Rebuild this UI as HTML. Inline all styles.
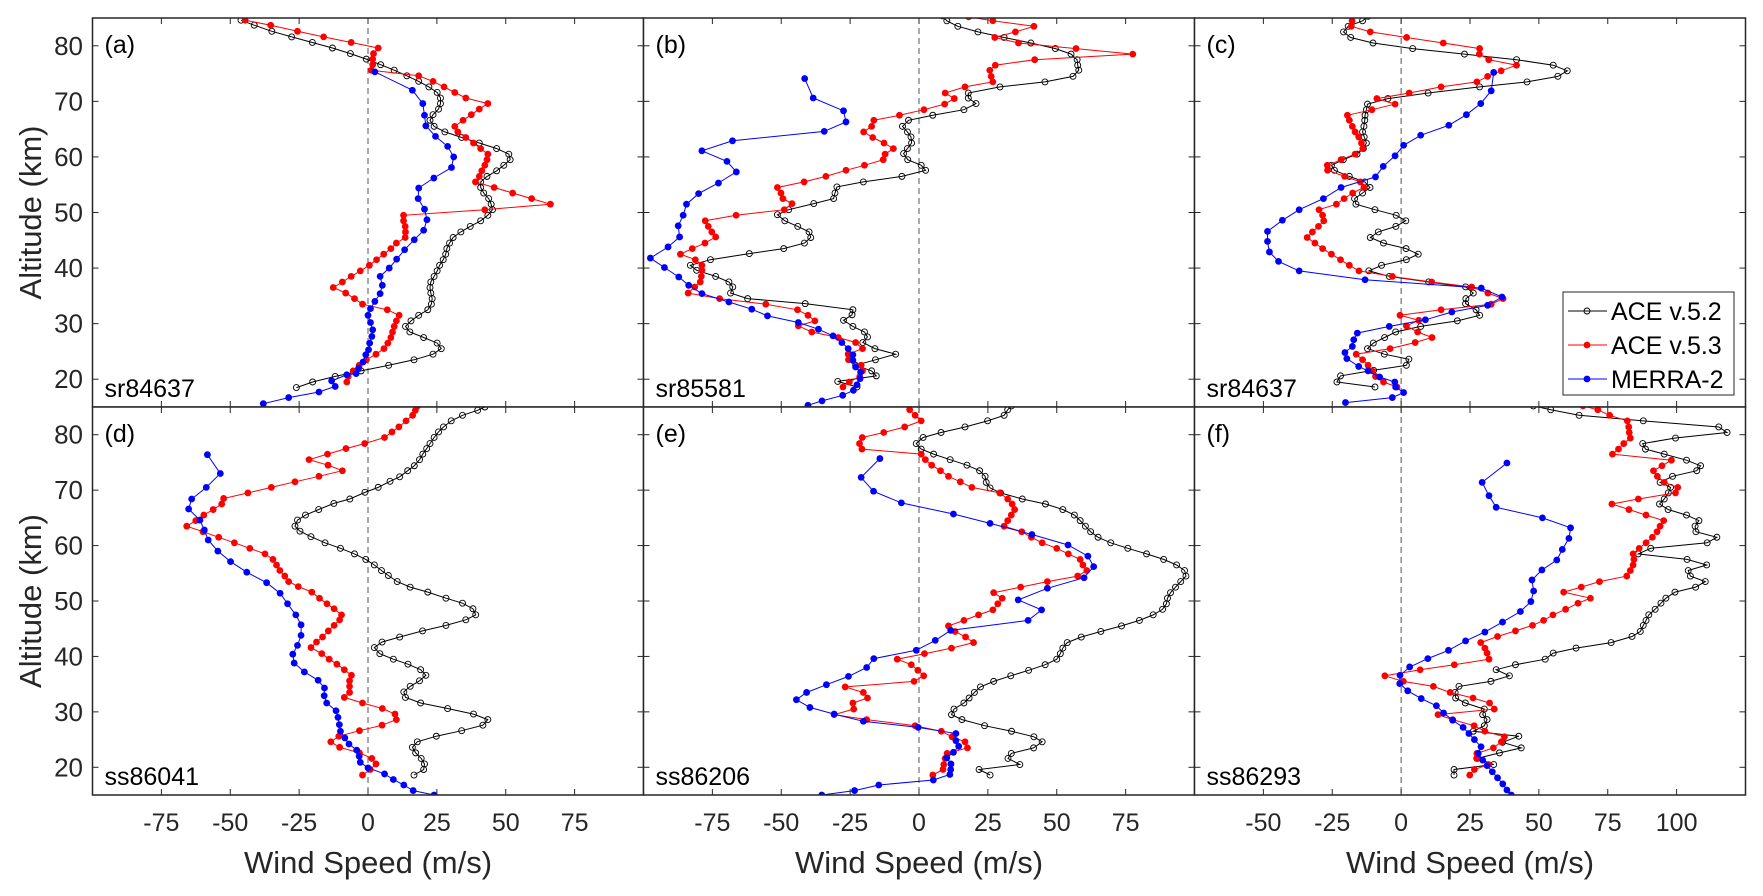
<!DOCTYPE html>
<html><head><meta charset="utf-8"><style>
html,body{margin:0;padding:0;background:#fff;}
svg{display:block;font-family:"Liberation Sans",Arial,sans-serif;}
</style></head><body>
<svg id="fig" width="1763" height="896" viewBox="0 0 1763 896" xmlns="http://www.w3.org/2000/svg"></svg>
<script>
// ---------- data: [altitude km, wind speed m/s] ----------
const panelLetters=["(a)","(b)","(c)","(d)","(e)","(f)"];
const occultations=["sr84637","sr85581","sr84637","ss86041","ss86206","ss86293"];
const xTicksAB=[-75,-50,-25,0,25,50,75];
const xTicksC=[-50,-25,0,25,50,75,100];
const yTicks=[20,30,40,50,60,70,80];
const seriesNames=["ACE v.5.2","ACE v.5.3","MERRA-2"];

const a52=[[84.6,-46.1],[83.7,-41.3],[82.6,-34.9],[81.6,-27.7],[80.6,-20.2],[79.6,-12.9],[78.6,-6.4],[77.6,-0.6],[76.6,4.6],[75.6,9.5],[74.6,14.1],[73.6,18.4],[72.6,22.1],[71.6,25.1],[70.6,26.3],[69.6,26.3],[68.6,25.6],[67.6,23.6],[66.6,22.5],[65.5,24.0],[64.5,27.9],[63.5,34.0],[62.5,40.4],[61.5,46.7],[60.5,51.1],[59.5,51.6],[58.5,49.3],[57.5,46.7],[56.5,43.2],[55.5,40.9],[54.5,40.9],[53.5,42.0],[52.5,43.8],[51.5,44.7],[50.5,45.2],[49.5,43.5],[48.5,40.9],[47.5,37.1],[46.5,33.7],[45.5,30.9],[44.5,29.6],[43.5,28.6],[42.5,28.2],[41.5,27.3],[40.5,26.0],[39.5,25.1],[38.5,24.0],[37.5,22.8],[36.5,22.5],[35.5,22.8],[34.5,23.3],[33.5,23.0],[32.5,21.7],[31.5,18.4],[30.5,15.6],[29.5,13.6],[28.5,15.2],[27.5,20.2],[26.5,25.1],[25.5,26.6],[24.5,23.6],[23.5,16.7],[22.5,7.5],[21.5,-2.5],[20.5,-11.9],[19.5,-20.1],[18.5,-26.0]];
const a53=[[84.6,-44.6],[83.7,-35.3],[82.6,-25.6],[81.6,-16.1],[80.6,-6.1],[79.6,3.7],[78.6,2.0],[77.6,1.7],[76.6,1.7],[75.6,1.2],[74.6,18.4],[73.6,23.6],[72.6,27.6],[71.6,31.5],[70.6,35.5],[69.6,43.5],[68.6,40.4],[67.6,37.5],[66.6,34.5],[65.5,31.5],[64.5,32.6],[63.5,35.5],[62.5,38.3],[61.5,40.9],[60.5,43.5],[59.5,43.2],[58.5,42.4],[57.5,41.3],[56.5,40.4],[55.5,39.0],[54.5,45.8],[53.5,52.5],[52.5,59.4],[51.5,66.2],[50.5,42.4],[49.5,12.9],[48.5,12.9],[47.5,13.5],[46.5,13.6],[45.5,13.5],[44.5,10.3],[43.5,8.3],[42.5,5.7],[41.5,3.1],[40.5,0.5],[39.5,-2.8],[38.5,-6.1],[37.5,-9.3],[36.5,-12.6],[35.5,-8.1],[34.5,-4.9],[33.5,-2.0],[32.5,7.0],[31.5,11.3],[30.5,10.3],[29.5,9.5],[28.5,8.9],[27.5,8.3],[26.5,7.2],[25.5,5.8],[24.5,2.9],[23.5,-0.6],[22.5,-3.2],[21.5,-5.4],[20.5,-7.2],[19.5,-7.7]];
const aMerra=[[75.3,2.5],[72.0,16.1],[69.6,19.9],[67.5,20.5],[65.6,21.0],[63.7,24.5],[61.9,28.9],[60.0,31.1],[58.1,30.3],[56.2,23.9],[54.4,18.4],[52.5,18.2],[50.6,20.5],[48.7,21.4],[46.8,20.2],[45.1,16.8],[43.3,13.3],[41.6,10.4],[40.0,7.7],[38.5,4.4],[36.9,5.2],[35.4,4.4],[34.0,2.5],[32.7,0.9],[31.5,0.0],[30.2,0.9],[28.9,1.7],[27.7,1.4],[26.5,0.6],[25.3,0.2],[24.4,-0.8],[23.1,-1.8],[22.0,-3.4],[21.0,-4.3],[20.8,-7.7],[19.7,-13.2],[18.7,-11.9],[17.7,-17.8],[16.7,-28.8],[15.6,-38.0]];

const b52=[[85.4,8.5],[84.5,10.1],[83.5,14.1],[82.5,21.4],[81.5,30.9],[80.5,40.6],[79.5,49.5],[78.5,55.2],[77.5,57.4],[76.5,57.6],[75.6,58.0],[74.5,55.9],[73.5,45.7],[72.6,29.4],[71.5,17.9],[70.6,17.9],[69.6,20.7],[68.5,16.3],[67.5,5.0],[66.6,-3.8],[65.5,-6.0],[64.5,-4.2],[63.6,-2.9],[62.5,-2.7],[61.5,-4.2],[60.6,-5.6],[59.5,-4.1],[58.5,0.8],[57.6,2.4],[56.5,-6.2],[55.5,-20.2],[54.6,-29.8],[53.5,-30.5],[52.5,-31.0],[51.6,-38.2],[50.5,-47.3],[49.6,-51.4],[48.5,-48.7],[47.5,-44.0],[46.5,-39.9],[45.5,-39.3],[44.5,-41.6],[43.5,-49.1],[42.6,-61.6],[41.5,-75.7],[40.5,-83.0],[39.6,-80.7],[38.5,-73.8],[37.5,-69.0],[36.6,-67.6],[35.5,-68.4],[34.5,-62.2],[33.6,-41.3],[32.5,-24.0],[31.6,-24.3],[30.6,-27.4],[29.5,-24.0],[28.5,-19.8],[27.6,-18.7],[26.6,-20.4],[25.5,-16.0],[24.5,-8.5],[23.5,-15.8],[22.5,-23.0],[21.5,-17.2],[20.6,-15.5],[19.6,-29.5],[18.6,-22.5]];
const b53=[[85.2,18.0],[84.5,26.8],[83.5,41.7],[82.5,35.0],[81.5,27.5],[80.5,36.1],[79.5,57.0],[78.5,77.6],[77.5,42.0],[76.5,27.7],[75.6,25.7],[74.5,26.2],[73.5,26.8],[72.6,16.7],[71.5,9.5],[70.5,12.8],[69.5,9.3],[68.5,1.8],[67.5,-7.1],[66.6,-16.4],[65.5,-17.2],[64.5,-20.1],[63.5,-16.8],[62.5,-12.7],[61.5,-9.3],[60.5,-12.3],[59.5,-13.0],[58.5,-19.8],[57.6,-26.5],[56.5,-33.8],[55.5,-41.7],[54.5,-51.4],[53.5,-50.1],[52.5,-49.4],[51.6,-46.1],[50.5,-48.9],[49.5,-66.4],[48.5,-77.6],[47.5,-76.5],[46.5,-75.2],[45.6,-73.8],[44.5,-77.7],[43.5,-82.3],[42.5,-86.6],[41.5,-81.2],[40.5,-78.8],[39.6,-78.8],[38.5,-79.0],[37.5,-79.4],[36.6,-81.4],[35.5,-83.8],[34.5,-72.4],[33.5,-55.6],[32.5,-44.1],[31.5,-40.3],[30.5,-37.8],[29.6,-43.8],[28.5,-38.9],[27.5,-29.3],[26.6,-23.0],[25.5,-20.5],[24.5,-25.7],[23.5,-25.6],[22.5,-21.0],[21.5,-20.5],[20.5,-21.5],[19.5,-25.3],[18.6,-27.6]];
const bMerra=[[74.1,-41.5],[70.6,-38.4],[68.3,-27.4],[66.3,-26.5],[64.6,-34.4],[62.9,-67.7],[61.1,-78.8],[59.2,-69.7],[57.3,-66.3],[55.3,-72.8],[53.4,-80.0],[51.5,-84.4],[49.5,-85.6],[47.6,-87.4],[45.6,-86.9],[43.8,-91.1],[41.8,-97.5],[40.1,-92.4],[38.4,-87.2],[36.9,-83.6],[35.4,-78.8],[33.9,-69.0],[32.6,-60.7],[31.4,-55.0],[30.2,-43.8],[29.0,-36.5],[27.8,-31.2],[26.6,-28.0],[25.5,-25.7],[24.4,-24.0],[23.4,-24.0],[22.2,-23.0],[21.3,-21.2],[20.1,-21.4],[19.0,-22.5],[18.0,-23.8],[17.1,-27.7],[16.1,-35.2],[15.3,-40.3]];

const c52=[[85.3,-12.0],[84.5,-14.0],[83.5,-19.2],[82.5,-20.9],[81.5,-18.3],[80.5,-10.2],[79.5,4.2],[78.5,23.0],[77.5,41.9],[76.5,55.2],[75.5,60.3],[74.5,56.9],[73.5,45.7],[72.6,28.5],[71.5,9.8],[70.5,-4.8],[69.5,-12.2],[68.5,-12.6],[67.5,-13.1],[66.6,-13.2],[65.5,-13.5],[64.5,-14.0],[63.6,-13.4],[62.5,-12.6],[61.5,-13.7],[60.5,-16.0],[59.5,-21.0],[58.5,-25.3],[57.6,-24.2],[56.5,-18.8],[55.5,-13.2],[54.5,-11.3],[53.5,-14.0],[52.5,-16.9],[51.5,-16.4],[50.5,-9.5],[49.5,-1.8],[48.5,1.7],[47.5,-1.9],[46.5,-8.3],[45.5,-11.2],[44.5,-6.4],[43.5,1.8],[42.5,6.2],[41.5,1.9],[40.5,-7.1],[39.5,-11.7],[38.5,-4.3],[37.5,10.0],[36.6,23.4],[35.5,26.2],[34.5,23.5],[33.6,23.4],[32.5,27.2],[31.5,28.5],[30.5,20.4],[29.5,7.1],[28.5,-2.0],[27.5,-6.0],[26.5,-10.1],[25.5,-12.2],[24.5,-6.1],[23.6,2.8],[22.5,1.9],[21.6,-10.0],[20.6,-22.0],[19.5,-23.3],[18.6,-9.5]];
const c53=[[84.5,-17.8],[83.5,-18.1],[82.5,-11.2],[81.5,2.0],[80.5,15.3],[79.5,28.5],[78.5,28.4],[77.5,31.8],[76.5,41.9],[75.5,36.3],[74.5,31.4],[73.5,27.5],[72.6,14.5],[71.5,2.9],[70.5,-8.8],[69.5,-2.2],[68.5,-10.6],[67.5,-19.5],[66.6,-18.8],[65.5,-17.7],[64.5,-16.7],[63.6,-15.4],[62.5,-14.4],[61.5,-13.9],[60.5,-16.7],[59.5,-21.8],[58.5,-26.8],[57.6,-26.7],[56.5,-20.5],[55.5,-14.8],[54.5,-13.5],[53.5,-17.6],[52.5,-20.7],[51.5,-23.5],[50.5,-29.8],[49.5,-28.5],[48.5,-28.1],[47.5,-30.0],[46.5,-32.2],[45.5,-34.1],[44.5,-31.3],[43.5,-28.5],[42.5,-25.3],[41.5,-22.0],[40.5,-18.8],[39.5,-15.3],[38.5,-3.2],[37.5,11.1],[36.6,25.6],[35.5,31.5],[34.5,37.0],[33.5,32.7],[32.5,14.5],[31.5,-0.4],[30.6,6.4],[29.6,1.9],[28.5,6.0],[27.5,11.2],[26.6,5.1],[25.5,-4.0],[24.5,-16.3],[23.5,-14.0],[22.5,-12.0],[21.5,-10.5],[20.5,-9.3],[19.5,-6.4],[18.6,-1.5]];
const cMerra=[[75.2,33.6],[71.9,32.7],[69.6,28.9],[67.6,23.7],[65.7,17.3],[63.9,7.1],[62.1,0.9],[60.2,-2.2],[58.3,-6.5],[56.4,-9.3],[54.5,-21.8],[52.5,-28.2],[50.5,-37.0],[48.6,-43.1],[46.6,-48.5],[44.8,-48.5],[42.9,-47.8],[41.2,-44.5],[39.5,-37.0],[37.9,-13.1],[36.4,29.1],[34.8,36.6],[33.3,31.4],[32.1,18.4],[30.7,8.8],[29.5,-4.3],[28.3,-15.9],[27.1,-17.2],[25.9,-17.7],[24.8,-20.4],[23.7,-19.7],[22.3,-15.4],[21.5,-12.0],[20.4,-7.8],[19.5,-2.3],[18.6,-2.0],[17.6,0.9],[16.7,-3.2],[15.8,-20.2]];

const d52=[[85.0,42.4],[84.4,39.8],[83.5,34.3],[82.5,30.2],[81.4,27.4],[80.5,25.6],[79.5,24.0],[78.4,22.5],[77.5,21.3],[76.5,19.9],[75.5,18.7],[74.4,16.8],[73.5,14.4],[72.4,11.5],[71.6,8.0],[70.5,3.7],[69.6,-1.1],[68.4,-6.6],[67.6,-12.4],[66.5,-17.9],[65.5,-22.7],[64.6,-25.6],[63.5,-26.5],[62.6,-24.7],[61.6,-20.7],[60.5,-15.6],[59.5,-10.0],[58.5,-4.9],[57.5,-0.8],[56.5,2.3],[55.5,4.9],[54.6,7.4],[53.5,10.6],[52.5,15.3],[51.6,21.7],[50.5,28.3],[49.6,34.3],[48.6,38.1],[47.5,39.1],[46.6,35.5],[45.6,28.3],[44.6,19.8],[43.5,11.5],[42.6,5.1],[41.6,2.3],[40.5,4.3],[39.5,9.2],[38.6,14.5],[37.6,19.1],[36.6,21.0],[35.6,18.7],[34.6,15.3],[33.6,13.0],[32.6,13.6],[31.6,19.1],[30.6,28.9],[29.6,38.3],[28.6,43.5],[27.6,41.7],[26.6,34.0],[25.6,24.8],[24.6,17.9],[23.6,16.1],[22.6,17.3],[21.6,19.3],[20.6,20.5],[19.6,20.2],[18.6,16.7]];
const d53=[[85.2,18.0],[84.4,17.2],[83.5,16.2],[82.5,13.8],[81.4,11.2],[80.5,8.7],[79.5,6.0],[78.4,-1.2],[77.5,-8.0],[76.5,-14.7],[75.5,-21.4],[74.5,-14.5],[73.5,-9.3],[72.5,-17.8],[71.5,-26.5],[70.5,-35.1],[69.5,-43.6],[68.5,-52.4],[67.5,-53.1],[66.5,-56.2],[65.5,-59.6],[64.5,-62.5],[63.5,-65.8],[62.5,-59.9],[61.5,-54.2],[60.5,-48.5],[59.5,-42.9],[58.5,-37.4],[57.5,-34.5],[56.5,-33.2],[55.5,-32.0],[54.5,-30.2],[53.5,-28.8],[52.6,-25.3],[51.6,-20.4],[50.5,-17.6],[49.5,-14.9],[48.6,-12.3],[47.5,-9.6],[46.6,-10.3],[45.6,-12.3],[44.6,-14.4],[43.5,-16.5],[42.6,-18.7],[41.6,-20.7],[40.5,-16.8],[39.5,-14.1],[38.6,-11.3],[37.6,-8.6],[36.6,-6.0],[35.6,-6.7],[34.6,-6.7],[33.5,-6.7],[32.6,-8.6],[31.6,-2.0],[30.6,5.2],[29.6,9.8],[28.6,10.3],[27.6,5.1],[26.6,-3.1],[25.6,-10.6],[24.6,-13.5],[23.6,-10.3],[22.6,-3.1],[21.6,1.4],[20.6,2.9],[19.6,0.8],[18.6,-2.0]];
const dMerra=[[76.4,-58.3],[73.0,-53.6],[70.5,-58.7],[68.4,-64.0],[66.6,-65.1],[64.6,-61.0],[62.8,-59.4],[61.0,-58.0],[59.0,-54.5],[57.1,-49.9],[55.2,-44.0],[53.3,-36.8],[51.4,-31.9],[49.5,-29.2],[47.5,-26.2],[45.7,-24.3],[43.8,-24.3],[42.0,-25.6],[40.4,-27.3],[38.8,-26.8],[37.2,-23.1],[35.7,-18.1],[34.3,-15.8],[32.9,-15.9],[31.6,-15.0],[30.2,-11.6],[29.0,-10.9],[27.7,-10.4],[26.5,-10.0],[25.3,-8.4],[24.2,-6.9],[23.1,-4.1],[22.0,-3.2],[20.9,-2.8],[19.9,0.0],[18.8,6.0],[17.8,9.2],[16.8,13.0],[15.8,16.4],[15.0,24.0]];

const e52=[[85.2,33.5],[84.5,32.2],[83.5,30.9],[82.5,24.9],[81.4,16.7],[80.4,8.0],[79.5,1.5],[78.4,-1.0],[77.4,0.8],[76.5,5.3],[75.5,11.3],[74.5,17.4],[73.5,22.0],[72.5,24.0],[71.4,24.4],[70.4,25.8],[69.5,29.6],[68.4,37.5],[67.5,45.9],[66.5,52.2],[65.5,56.4],[64.5,58.5],[63.5,60.4],[62.5,62.3],[61.5,65.0],[60.5,69.6],[59.5,75.8],[58.5,82.6],[57.5,88.8],[56.5,93.5],[55.5,96.4],[54.5,96.9],[53.5,95.0],[52.5,93.1],[51.5,91.3],[50.5,90.2],[49.5,89.8],[48.5,88.4],[47.5,85.0],[46.5,80.0],[45.5,73.5],[44.5,66.0],[43.5,58.9],[42.5,53.8],[41.5,52.2],[40.5,51.3],[39.5,50.0],[38.5,45.8],[37.5,39.8],[36.5,33.3],[35.5,27.1],[34.5,22.3],[33.5,20.1],[32.5,18.2],[31.6,16.3],[30.5,12.7],[29.5,11.8],[28.6,15.6],[27.5,23.8],[26.5,33.6],[25.5,41.7],[24.6,44.7],[23.5,41.6],[22.5,33.5],[21.6,32.3],[20.5,36.6],[19.6,21.8],[18.6,25.8]];
const e53=[[84.5,-3.4],[83.5,-1.4],[82.5,0.8],[81.4,-5.2],[80.4,-12.8],[79.5,-20.6],[78.4,-21.6],[77.4,-20.7],[76.5,0.8],[75.5,2.3],[74.5,4.6],[73.5,7.8],[72.5,10.7],[71.5,15.0],[70.5,19.2],[69.5,29.3],[68.4,32.2],[67.5,33.8],[66.5,34.7],[65.5,33.5],[64.5,32.2],[63.5,30.9],[62.5,37.3],[61.5,40.8],[60.5,44.7],[59.5,50.0],[58.5,54.2],[57.5,58.5],[56.5,59.5],[55.5,60.9],[54.5,57.6],[53.5,46.6],[52.5,36.9],[51.5,27.1],[50.5,30.2],[49.5,28.6],[48.4,26.8],[47.5,21.6],[46.5,16.3],[45.5,10.7],[44.5,13.1],[43.5,16.9],[42.5,19.8],[41.5,11.8],[40.5,2.0],[39.5,-7.9],[38.5,-2.8],[37.5,-0.4],[36.5,1.7],[35.5,-1.8],[34.5,-26.8],[33.5,-20.2],[32.5,-18.7],[31.6,-24.0],[30.5,-23.7],[29.5,-30.8],[28.6,-19.0],[27.5,-1.4],[26.5,8.1],[25.5,12.0],[24.6,16.7],[23.5,17.6],[22.5,10.2],[21.6,9.5],[20.5,9.0],[19.6,8.7],[18.6,5.0]];
const eMerra=[[75.7,-14.2],[72.3,-21.0],[69.8,-16.5],[67.7,-6.4],[65.7,12.5],[64.0,25.8],[62.0,41.0],[60.1,54.1],[58.1,61.3],[56.2,63.4],[54.2,59.9],[52.3,46.6],[50.2,36.0],[48.4,44.5],[46.5,39.6],[44.7,11.5],[42.9,5.9],[41.1,-1.0],[39.6,-16.4],[38.0,-19.0],[36.4,-25.6],[34.9,-33.6],[33.5,-40.8],[32.2,-44.5],[30.8,-39.6],[29.6,-30.8],[28.3,-20.2],[27.2,-0.3],[26.1,13.4],[24.8,13.4],[23.8,14.4],[22.7,12.5],[21.7,10.1],[20.6,11.6],[19.6,11.5],[18.7,11.2],[17.7,5.2],[16.8,-14.6],[15.8,-23.4],[15.0,-35.3]];

const f52=[[85.2,48.0],[84.5,54.3],[83.5,64.6],[82.5,87.9],[81.4,115.3],[80.4,118.3],[79.4,99.6],[78.4,87.7],[77.4,88.7],[76.5,95.5],[75.4,103.6],[74.4,108.7],[73.5,107.3],[72.5,98.5],[71.4,94.0],[70.5,97.8],[69.5,97.0],[68.4,95.5],[67.5,93.8],[66.5,96.9],[65.5,103.6],[64.5,108.1],[63.5,106.7],[62.5,107.0],[61.5,114.6],[60.5,111.1],[59.5,90.6],[58.5,86.1],[57.5,103.8],[56.5,110.9],[55.5,104.2],[54.5,105.0],[53.5,110.4],[52.5,106.9],[51.6,99.4],[50.5,96.1],[49.6,94.3],[48.5,92.2],[47.5,89.9],[46.5,88.9],[45.6,87.9],[44.5,86.8],[43.6,83.8],[42.5,76.2],[41.5,63.5],[40.6,55.2],[39.5,52.3],[38.5,41.5],[37.6,34.5],[36.5,39.3],[35.5,32.6],[34.6,21.0],[33.5,19.6],[32.5,19.8],[31.6,23.3],[30.5,30.2],[29.5,29.6],[28.6,31.2],[27.5,30.2],[26.5,26.2],[25.6,42.7],[24.5,36.8],[23.5,43.6],[22.6,35.7],[21.6,27.6],[20.5,33.6],[19.6,19.2],[18.6,19.2]];
const f53=[[85.2,66.0],[84.5,71.4],[83.5,75.7],[82.5,82.1],[81.4,82.6],[80.4,82.8],[79.4,83.2],[78.4,80.8],[77.4,78.9],[76.5,76.7],[75.4,98.1],[74.4,94.7],[73.5,91.6],[72.5,93.0],[71.4,95.5],[70.5,100.4],[69.5,99.6],[68.4,86.1],[67.5,76.5],[66.5,82.7],[65.5,88.9],[64.5,95.3],[63.5,94.0],[62.5,92.9],[61.5,91.2],[60.5,88.9],[59.5,86.4],[58.5,84.2],[57.5,84.5],[56.5,84.2],[55.5,83.2],[54.5,81.9],[53.5,72.0],[52.5,65.4],[51.6,59.0],[50.5,68.7],[49.6,64.2],[48.5,59.7],[47.5,55.1],[46.5,51.7],[45.6,47.7],[44.6,41.5],[43.6,35.0],[42.5,28.9],[41.5,30.4],[40.6,31.2],[39.5,31.9],[38.5,19.3],[37.6,6.9],[36.5,-5.9],[35.5,0.8],[34.6,11.7],[33.5,17.8],[32.5,26.1],[31.6,32.1],[30.5,33.8],[29.5,13.4],[28.6,18.7],[27.5,26.5],[26.5,30.4],[25.5,37.5],[24.6,36.4],[23.5,33.5],[22.5,27.5],[21.6,27.4],[20.5,31.7],[19.6,26.6],[18.6,24.9]];
const fMerra=[[74.9,38.4],[71.4,29.4],[69.0,31.9],[66.9,34.5],[65.0,51.3],[63.2,61.5],[61.3,60.9],[59.3,58.5],[57.4,56.5],[55.6,51.1],[53.8,47.5],[51.8,48.1],[49.9,47.1],[48.1,43.3],[46.2,36.8],[44.4,30.4],[42.8,23.4],[41.1,17.2],[39.6,9.7],[38.1,3.1],[36.6,-0.4],[35.1,-0.5],[33.8,2.4],[32.4,7.3],[31.1,12.8],[29.8,15.4],[28.5,18.7],[27.2,22.5],[26.1,24.6],[25.0,26.6],[23.7,29.0],[22.5,28.0],[21.3,29.6],[20.3,31.2],[19.2,33.1],[18.1,35.0],[17.0,36.9],[15.9,38.4],[15.0,40.0]];

const panelSeries=[[a52,a53,aMerra],[b52,b53,bMerra],[c52,c53,cMerra],[d52,d53,dMerra],[e52,e53,eMerra],[f52,f53,fMerra]];
const xDomains=[[-100,100],[-100,100],[-75,125],[-100,100],[-100,100],[-75,125]];
const yDomain=[15,85];

// ---------- layout ----------
const NS="http://www.w3.org/2000/svg";
const svg=document.getElementById('fig');
const colLeft=[92.5,643.5,1194.5], panelW=551;
const rowTop=[18,407], panelH=[389,388];
const ink="#262626";
const colors=["#000000","#ff0000","#0000ff"];
function mk(tag,attrs,parent){const e=document.createElementNS(NS,tag);for(const k in attrs)e.setAttribute(k,attrs[k]);(parent||svg).appendChild(e);return e;}

const defs=mk('defs',{});
for(let p=0;p<6;p++){
  const c=p%3,r=Math.floor(p/3);
  const L=colLeft[c],T=rowTop[r],W=panelW,H=panelH[r];
  const xd=xDomains[p];
  const xs=v=>L+(v-xd[0])/(xd[1]-xd[0])*W;
  const ys=v=>T+H-(v-yDomain[0])/(yDomain[1]-yDomain[0])*H;
  const g=mk('g',{});
  
  
  const cp=mk('clipPath',{id:'clip'+p},defs);
  mk('rect',{x:L,y:T,width:W,height:H},cp);
  mk('rect',{x:L,y:T,width:W,height:H,fill:'#fff'},g);
  // zero line
  const z=mk('line',{x1:xs(0),x2:xs(0),y1:T,y2:T+H,stroke:'#555',"stroke-width":1,"stroke-dasharray":"6,4"},g);
  
  
  // ticks
  const xt=(c===2)?xTicksC:xTicksAB;
  xt.forEach(v=>{
    mk('line',{x1:xs(v),x2:xs(v),y1:T+H,y2:T+H-6,stroke:ink,"stroke-width":1},g);
    mk('line',{x1:xs(v),x2:xs(v),y1:T,y2:T+6,stroke:ink,"stroke-width":1},g);
    if(r===1){const t=mk('text',{x:xs(v),y:831,"text-anchor":"middle","font-size":25,fill:ink},g);t.textContent=v;
      
      }
  });
  yTicks.forEach(v=>{
    mk('line',{x1:L,x2:L+6,y1:ys(v),y2:ys(v),stroke:ink,"stroke-width":1},g);
    mk('line',{x1:L+W,x2:L+W-6,y1:ys(v),y2:ys(v),stroke:ink,"stroke-width":1},g);
    if(c===0){const t=mk('text',{x:83,y:ys(v)+9,"text-anchor":"end","font-size":26,fill:ink},g);t.textContent=v;
      
      }
  });
  // series
  const sg=mk('g',{"clip-path":'url(#clip'+p+')'},g);
  panelSeries[p].forEach((s,si)=>{
    const pts=s.map(d=>xs(d[1]).toFixed(1)+','+ys(d[0]).toFixed(1)).join(' ');
    const pl=mk('polyline',{points:pts,fill:'none',stroke:colors[si],"stroke-width":1},sg);
    
    
    s.forEach(d=>{
      const m=si===0?mk('circle',{cx:xs(d[1]),cy:ys(d[0]),r:3,fill:'none',stroke:'#000',"stroke-width":0.9},sg)
                     :mk('circle',{cx:xs(d[1]),cy:ys(d[0]),r:3.4,fill:colors[si]},sg);
      
      
    });
  });
  const fr=mk('rect',{x:L,y:T,width:W,height:H,fill:'none',stroke:ink,"stroke-width":1.5},g);
  
  
  const pl=mk('text',{x:L+12,y:T+35,"font-size":25,fill:'#000'},g);pl.textContent=panelLetters[p];
  
  
  const ol=mk('text',{x:L+12,y:T+H-10,"font-size":25,fill:'#000'},g);ol.textContent=occultations[p];
  
  
}
// axis titles
for(let c=0;c<3;c++){
  const t=mk('text',{x:colLeft[c]+panelW/2,y:873,"text-anchor":"middle","font-size":31,fill:ink});
  t.textContent="Wind Speed (m/s)";
  
  
}
for(let r=0;r<2;r++){
  const cy=rowTop[r]+panelH[r]/2;
  const t=mk('text',{x:0,y:0,transform:`translate(41,${cy}) rotate(-90)`,"text-anchor":"middle","font-size":31,fill:ink});
  t.textContent="Altitude (km)";
  
  
}
// legend
const lg=mk('g',{});


mk('rect',{x:1563,y:292,width:171,height:103,fill:'#fff',stroke:ink,"stroke-width":1},lg);
seriesNames.forEach((n,i)=>{
  const y=311+i*34;
  const e=mk('g',{},lg);
  
  
  mk('line',{x1:1568,x2:1607,y1:y,y2:y,stroke:colors[i],"stroke-width":1},e);
  if(i===0)mk('circle',{cx:1587,cy:y,r:3,fill:'none',stroke:'#000',"stroke-width":0.9},e);
  else mk('circle',{cx:1587,cy:y,r:3.4,fill:colors[i]},e);
  const t=mk('text',{x:1611,y:y+9,"font-size":25,fill:'#000'},e);t.textContent=n;
});
</script>
</body></html>
